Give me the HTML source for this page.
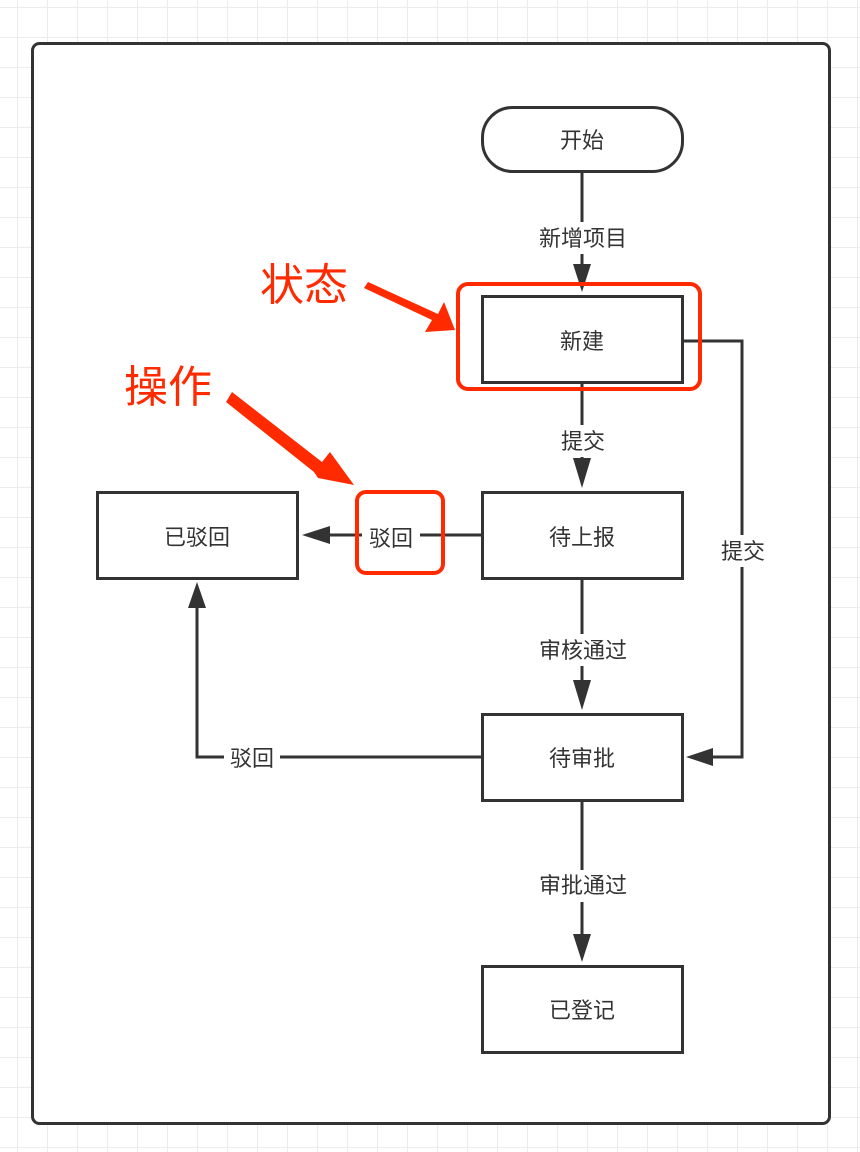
<!DOCTYPE html>
<html><head><meta charset="utf-8"><style>
html,body{margin:0;padding:0;background:#fff;}
body{width:860px;height:1152px;overflow:hidden;
background-image:linear-gradient(#ececec 1px,transparent 1px),linear-gradient(90deg,#ececec 1px,transparent 1px);
background-size:30px 30px;background-position:17px 7px;}
svg text{font-family:"Liberation Sans","Noto Sans CJK SC",sans-serif;}
</style></head><body>
<svg width="860" height="1152" viewBox="0 0 860 1152" xmlns="http://www.w3.org/2000/svg" style="position:absolute;left:0;top:0">
<rect x="32.5" y="43.5" width="797" height="1080" rx="7" fill="#fff" stroke="#333" stroke-width="3"/>
<g stroke="#333" stroke-width="3" fill="none">
<line x1="582" y1="172" x2="582" y2="270"/>
<line x1="582" y1="382" x2="582" y2="465"/>
<line x1="582" y1="578" x2="582" y2="690"/>
<line x1="582" y1="800" x2="582" y2="940"/>
<line x1="482" y1="535" x2="325" y2="535"/>
<polyline points="682,341 742,341 742,757 708,757"/>
<polyline points="482,757 197,757 197,605"/>
</g>
<g fill="#333">
<polygon points="573,264 591,264 582,292"/>
<polygon points="573,458 591,458 582,488"/>
<polygon points="573,680 591,680 582,710"/>
<polygon points="573,934 591,934 582,962"/>
<polygon points="330,526 330,544 302,535"/>
<polygon points="713,748 713,766 686,757"/>
<polygon points="188,608 206,608 197,582"/>
</g>
<g fill="#fff" stroke="#333" stroke-width="3">
<rect x="482.5" y="107.5" width="200" height="64" rx="30"/>
<rect x="482.5" y="296.5" width="200" height="86"/>
<rect x="482.5" y="492.5" width="200" height="86"/>
<rect x="482.5" y="714.5" width="200" height="86"/>
<rect x="482.5" y="966.5" width="200" height="86"/>
<rect x="97.5" y="492.5" width="200" height="86"/>
</g>
<g fill="#fff">
<rect x="528" y="222" width="110" height="32"/>
<rect x="552" y="425" width="60" height="32"/>
<rect x="528" y="634" width="110" height="32"/>
<rect x="528" y="870" width="110" height="32"/>
<rect x="712" y="535" width="60" height="32"/>
<rect x="224" y="742" width="56" height="32"/>
<rect x="362" y="520" width="58" height="32"/>
</g>
<g font-size="22" fill="#333" text-anchor="middle">
<text x="582" y="148">开始</text>
<text x="582" y="349">新建</text>
<text x="582" y="545">待上报</text>
<text x="582" y="766">待审批</text>
<text x="582" y="1018">已登记</text>
<text x="197" y="545">已驳回</text>
<text x="583" y="246">新增项目</text>
<text x="583" y="449">提交</text>
<text x="583" y="658">审核通过</text>
<text x="583" y="893">审批通过</text>
<text x="743" y="559">提交</text>
<text x="252" y="766">驳回</text>
<text x="391" y="546">驳回</text>
</g>
<g fill="none" stroke="#ff2a00" stroke-width="4">
<rect x="458" y="284" width="242" height="105" rx="10"/>
<rect x="357" y="492" width="86" height="81" rx="9"/>
</g>
<g fill="#ff2a00">
<polygon points="364,288 368,282 438,314 444,302 455,330 425,332 432,320"/>
<polygon points="226,402 232,392 322,462 330,452 354,485 318,478 314,472"/>
</g>
<g font-size="44" fill="#ff2a00" text-anchor="middle" font-family="'Liberation Sans','Noto Sans CJK SC',sans-serif">
<text x="304" y="300">状态</text>
<text x="168" y="402">操作</text>
</g>
</svg>
</body></html>
